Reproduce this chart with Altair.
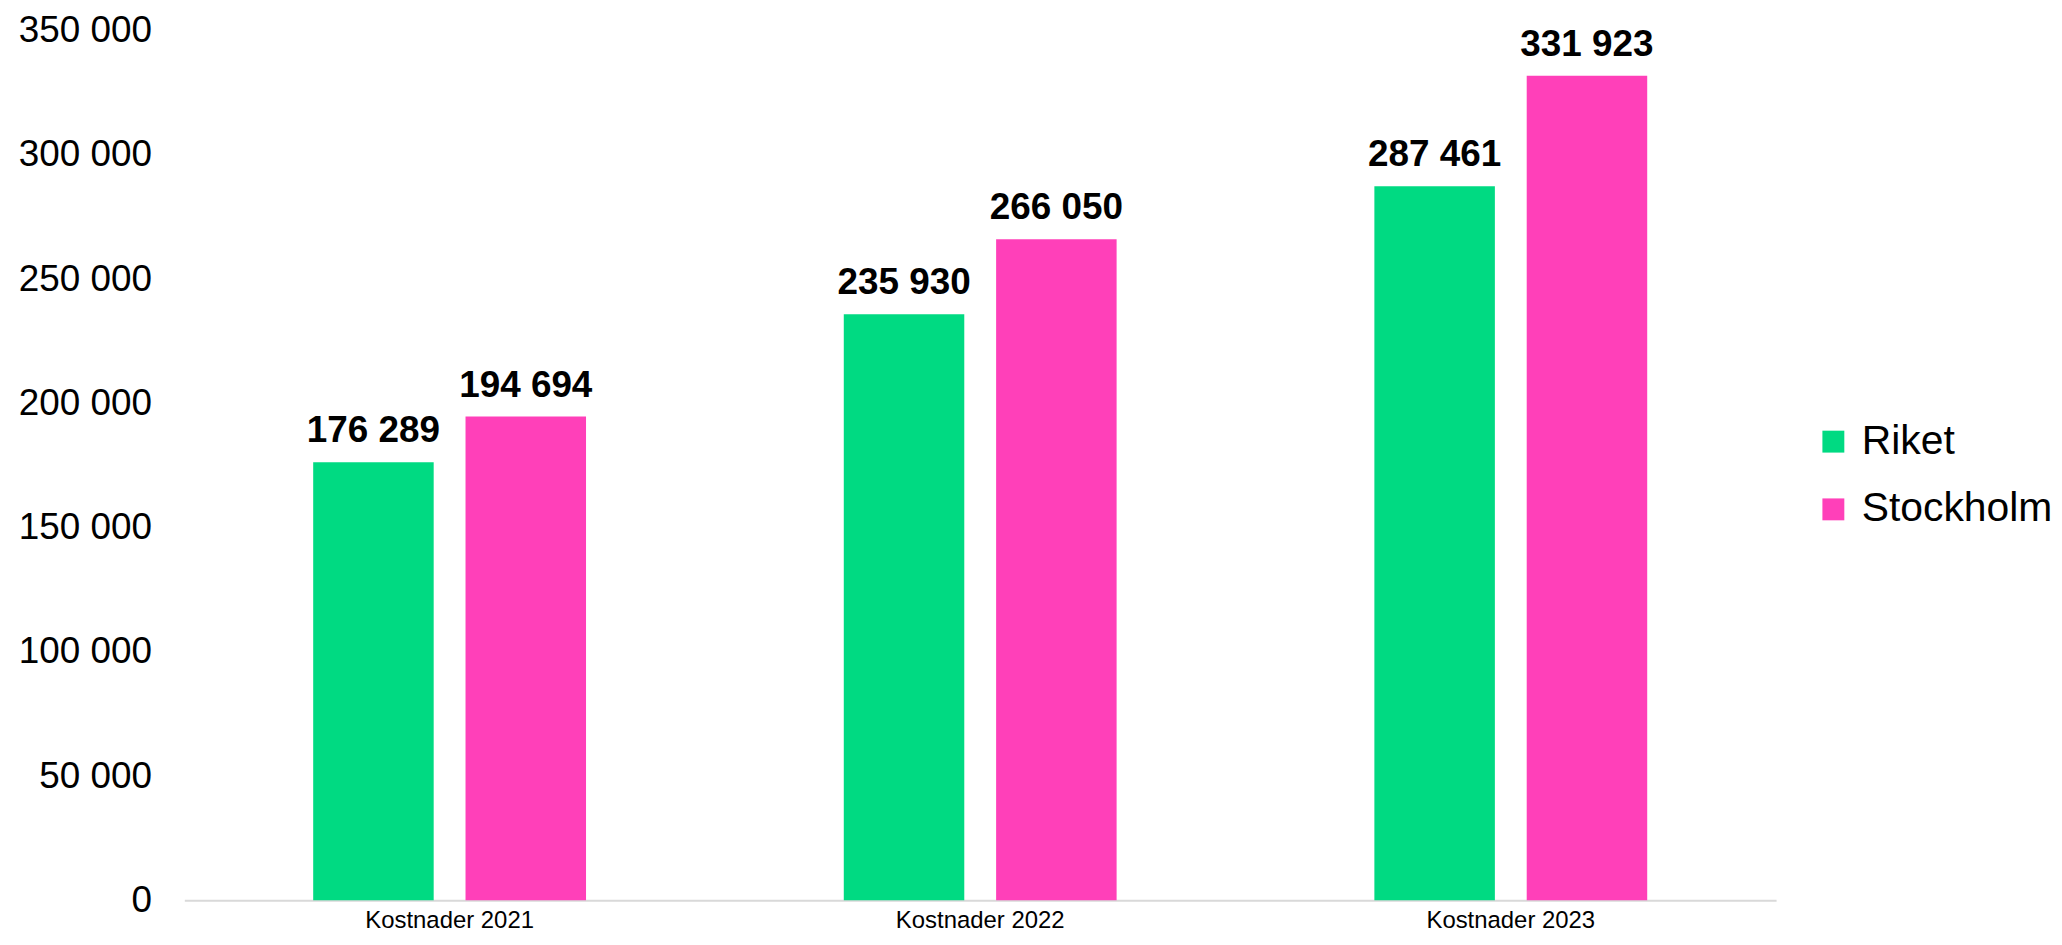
import altair as alt
import pandas as pd

categories = ["Kostnader 2021", "Kostnader 2022", "Kostnader 2023"]
series = ["Riket", "Stockholm"]
riket = [176289, 235930, 287461]
stockholm = [194694, 266050, 331923]
colors = ["#00DA82", "#FF40B9"]

rows = []
for i, c in enumerate(categories):
    rows.append({"cat": c, "serie": "Riket", "value": riket[i]})
    rows.append({"cat": c, "serie": "Stockholm", "value": stockholm[i]})
df = pd.DataFrame(rows)

FONT = "Arial, Liberation Sans, sans-serif"

base = alt.Chart(df).encode(
    x=alt.X("cat:N", sort=categories, title=None,
            scale=alt.Scale(paddingInner=0, paddingOuter=0),
            axis=alt.Axis(labelAngle=0, labelFontSize=24, labelFont=FONT, labelColor="#000000",
                          ticks=False, domainColor="#D9D9D9", domainWidth=2, labelPadding=8)),
    xOffset=alt.XOffset("serie:N", sort=series,
                        scale=alt.Scale(paddingInner=0.209, paddingOuter=0.846)),
)

bars = base.mark_bar().encode(
    y=alt.Y("value:Q", title=None,
            scale=alt.Scale(domain=[0, 350000], nice=False),
            axis=alt.Axis(values=[0, 50000, 100000, 150000, 200000, 250000, 300000, 350000],
                          labelExpr="replace(format(datum.value, ','), ',', ' ')",
                          labelFontSize=37, labelFont=FONT, labelColor="#000000",
                          ticks=False, domain=False, grid=False, labelPadding=33)),
    color=alt.Color("serie:N", sort=series, title=None,
                    scale=alt.Scale(domain=series, range=colors),
                    legend=alt.Legend(orient="none", legendX=1635, legendY=392,
                                      symbolType="square", symbolSize=484, symbolStrokeWidth=0,
                                      labelFontSize=41, labelFont=FONT, labelColor="#000000",
                                      labelLimit=0, rowPadding=26, labelOffset=8)),
)

labels = base.mark_text(baseline="alphabetic", dy=-20, fontSize=37, fontWeight="bold",
                        font=FONT, color="#000000").encode(
    y=alt.Y("value:Q"),
    text=alt.Text("label:N"),
).transform_calculate(label="replace(format(datum.value, ','), ',', ' ')")

chart = alt.layer(bars, labels).properties(
    width=1598, height=873,
    autosize=alt.AutoSizeParams(type="none"),
    padding={"left": 177, "top": 21, "right": 279, "bottom": 43},
).configure_view(stroke=None).configure_axis(grid=False)

chart.save("out.html", embed_options={"renderer": "svg", "actions": False})
